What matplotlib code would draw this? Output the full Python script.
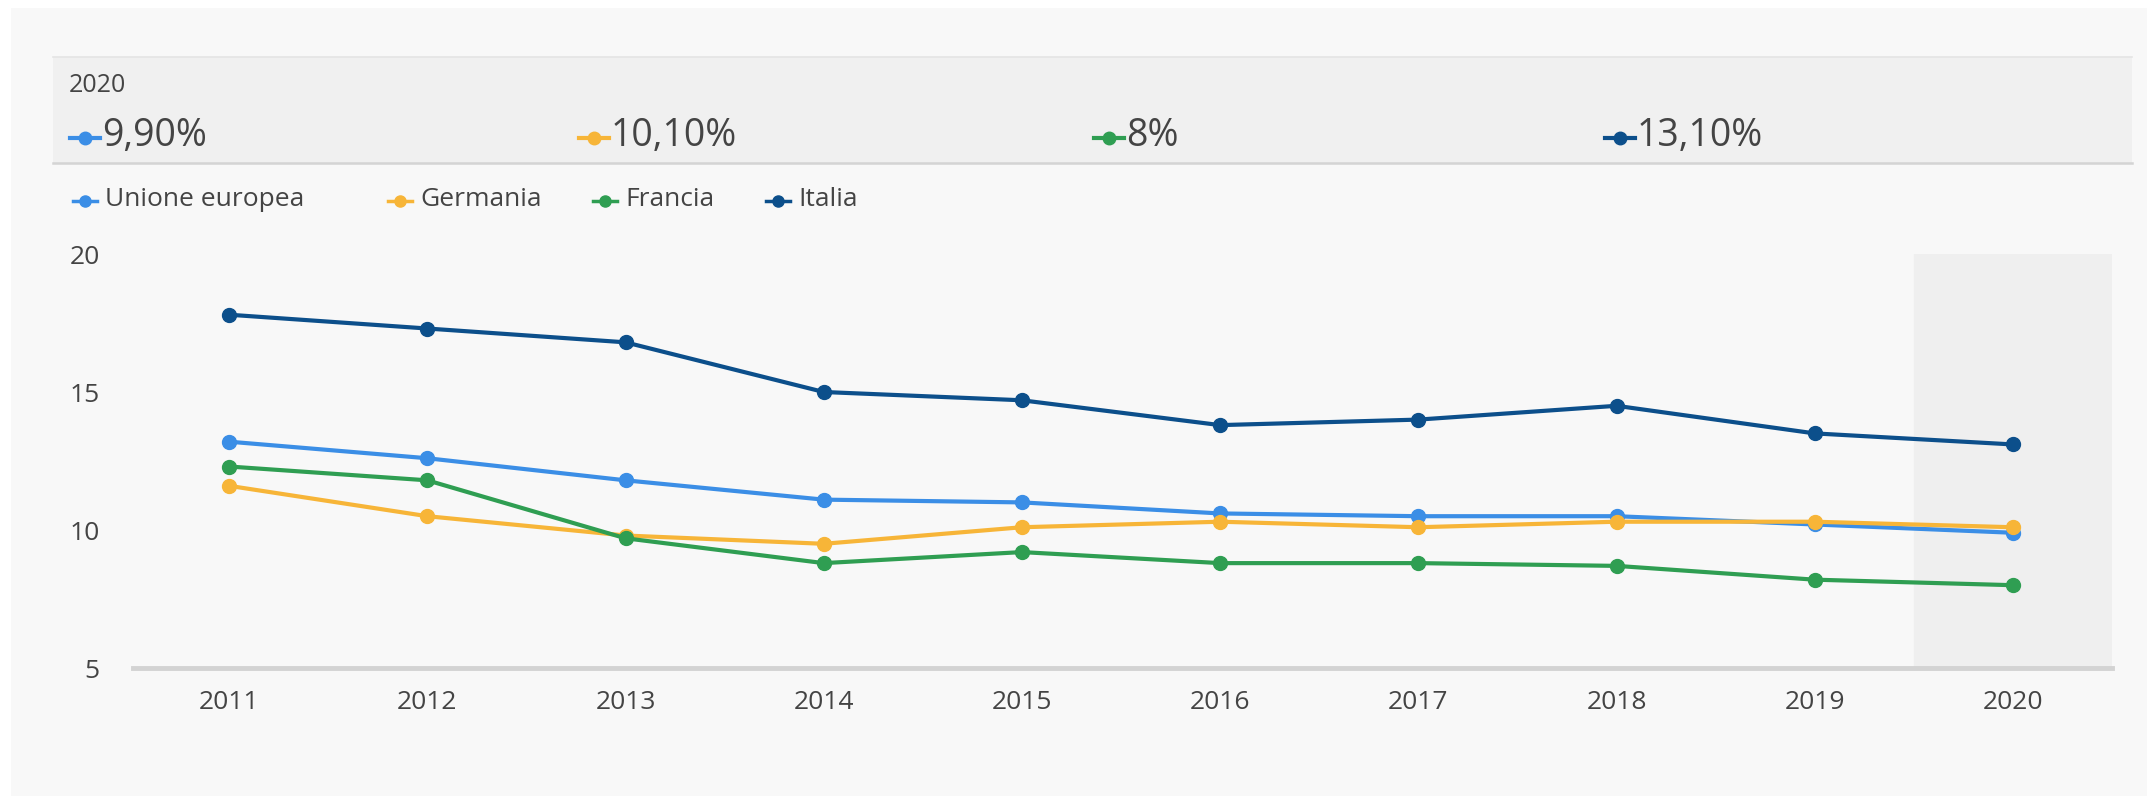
import matplotlib.pyplot as plt
from matplotlib.patches import Rectangle

anni = [2011, 2012, 2013, 2014, 2015, 2016, 2017, 2018, 2019, 2020]
unione_europea = [13.2, 12.6, 11.8, 11.1, 11.0, 10.6, 10.5, 10.5, 10.2, 9.9]
germania = [11.6, 10.5, 9.8, 9.5, 10.1, 10.3, 10.1, 10.3, 10.3, 10.1]
francia = [12.3, 11.8, 9.7, 8.8, 9.2, 8.8, 8.8, 8.7, 8.2, 8.0]
italia = [17.8, 17.3, 16.8, 15.0, 14.7, 13.8, 14.0, 14.5, 13.5, 13.1]
nomi = ['Unione europea', 'Germania', 'Francia', 'Italia']
colori = ['#3b8ee6', '#f7b538', '#2f9e52', '#0c4f8b']
y_ticks = [5, 10, 15, 20]

serie = [unione_europea, germania, francia, italia]

plt.rcParams['font.family'] = ['Open Sans', 'DejaVu Sans']
W, H = 2147, 796
fig = plt.figure(figsize=(W / 100, H / 100), dpi=100)
fig.patch.set_facecolor('white')


def fmt_pct(v):
    if v == int(v):
        return f'{int(v)}%'
    return f'{v:.2f}%'.replace('.', ',')


# overlay in pixel coords for card, header and legend
ov = fig.add_axes([0, 0, 1, 1])
ov.set_xlim(0, W)
ov.set_ylim(H, 0)
ov.axis('off')
ov.add_patch(Rectangle((11, 8), W - 11, H - 8, facecolor='#f8f8f8', edgecolor='none'))
ov.add_patch(Rectangle((53, 57), 2132 - 53, 106, facecolor='#f0f0f0', edgecolor='none'))
ov.plot([53, 2132], [163, 163], color='#d4d4d4', lw=1.8)
ov.plot([53, 2132], [57, 57], color='#e4e4e4', lw=1.2)
ov.text(69, 86, str(anni[-1]), fontsize=18, color='#444444', va='center', ha='left')

val_x = [85, 594, 1109, 1620]
for x, s, c in zip(val_x, serie, colori):
    ov.plot([x - 15, x + 15], [138, 138], color=c, lw=3)
    ov.plot(x, 138, 'o', color=c, ms=9)
    ov.text(x + 17, 136, fmt_pct(s[-1]), fontsize=27, color='#444444', va='center', ha='left')

leg_x = [85, 400, 605, 778]
for x, n, c in zip(leg_x, nomi, colori):
    ov.plot([x - 12, x + 12], [201, 201], color=c, lw=2.5)
    ov.plot(x, 201, 'o', color=c, ms=8)
    ov.text(x + 20, 199, n, fontsize=19, color='#444444', va='center', ha='left')

ax = fig.add_axes([133 / W, 1 - 668 / H, (2112 - 133) / W, (668 - 254) / H])
ax.set_facecolor('#f8f8f8')
ax.axvspan(anni[-1] - 0.5, anni[-1] + 0.5, color='#efefef', zorder=0)
for s, c, n in zip(serie, colori, nomi):
    ax.plot(anni, s, color=c, lw=3, marker='o', ms=10, label=n, zorder=3)

ax.set_xlim(anni[0] - 0.485, anni[-1] + 0.5)
ax.set_ylim(5, 20)
ax.set_yticks(y_ticks)
ax.set_xticks(anni)
ax.tick_params(axis='both', length=0, labelsize=19, colors='#444444')
ax.tick_params(axis='y', pad=24)
ax.tick_params(axis='x', pad=16)
for side in ['top', 'right', 'left']:
    ax.spines[side].set_visible(False)
ax.spines['bottom'].set_color('#d3d3d3')
ax.spines['bottom'].set_linewidth(3.5)

plt.savefig('out.png', dpi=100, facecolor=fig.get_facecolor())
